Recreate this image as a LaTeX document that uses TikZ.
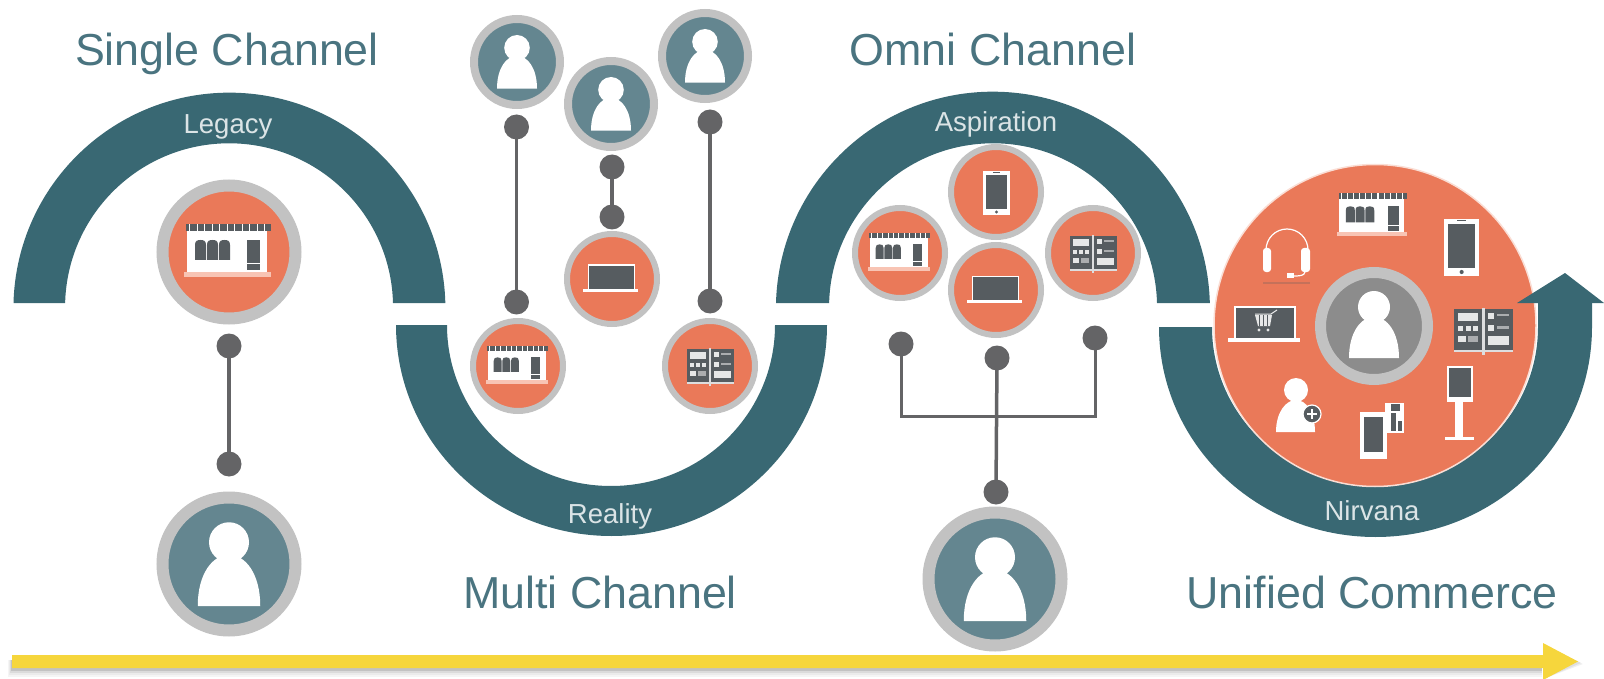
\documentclass[tikz,border=0pt]{standalone}
\usepackage{fontspec}
\setmainfont{Liberation Sans}
\definecolor{teal}{HTML}{396873}
\definecolor{coral}{HTML}{EA7959}
\definecolor{ringgray}{HTML}{C2C2C2}
\definecolor{persona}{HTML}{648690}
\definecolor{dotgray}{HTML}{646466}
\definecolor{icondark}{HTML}{565C60}
\definecolor{sunny}{HTML}{F6D63C}
\definecolor{titleblue}{HTML}{4A7480}
\definecolor{centergray}{HTML}{8C8C8C}
\definecolor{pale}{HTML}{F8C4B4}
\tikzset{
  ring/.style={circle,draw=ringgray,line width=#1,inner sep=0pt},
  bigp/.style={ring=12pt,fill=persona,minimum size=133pt},
  smallp/.style={ring=8pt,fill=persona,minimum size=86pt},
  bigo/.style={ring=12pt,fill=coral,minimum size=133pt},
  smallo/.style={ring=6pt,fill=coral,minimum size=90pt},
  dot/.style={circle,fill=dotgray,minimum size=25pt,inner sep=0pt,outer sep=0pt},
  wire/.style={draw=dotgray,line width=3.5pt,shorten <=-2pt,shorten >=-2pt},
  title/.style={font=\fontsize{44.8}{48}\selectfont,text=titleblue,inner sep=0pt,anchor=base},
  arclabel/.style={font=\fontsize{27.5}{30}\selectfont,text=white!82!teal,inner sep=0pt,anchor=base},
  band/.style={fill=teal},
  pics/person/.style={code={
    \fill[white] (0,-19) circle (16);
    \fill[white] (-25,32) .. controls (-25,6) and (-13,-9) .. (0,-9) .. controls (13,-9) and (25,6) .. (25,32) -- cycle;
  }},
  pics/store/.style={code={
    \fill[white] (-39,-28) rectangle (41,20);
    \fill[icondark] (-40,-28) rectangle (45,-21);
    \foreach \s in {-37,-29.5,...,41} {\fill[white] (\s,-28) rectangle ++(1.3,7);}
    \foreach \s in {-31,-19,-7} {\fill[icondark] (\s,8) -- (\s,-7) .. controls (\s,-11) and (\s+2,-12) .. (\s+5.5,-12) .. controls (\s+9,-12) and (\s+11,-11) .. (\s+11,-7) -- (\s+11,8) -- cycle;}
    \fill[icondark] (21,-12) rectangle (34,18);
    \fill[white] (21,11) rectangle (34,12);
    \fill[pale] (-42,20) rectangle (45,25);
  }},
  pics/laptop/.style={code={
    \fill[white] (-24.5,-14.5) rectangle (23,10);
    \fill[icondark] (-23,-13) rectangle (21.5,10);
    \fill[white] (-29,10) rectangle (26,13);
  }},
  pics/phone/.style={code={
    \fill[white] (-13,-21) rectangle (14,23);
    \fill[icondark] (-10,-17) rectangle (11,17);
    \fill[icondark] (-3,-20) rectangle (4,-19);
    \fill[icondark] (0.5,20) circle (1.6);
  }},
  pics/catalog/.style={code={
    \fill[icondark] (-23,-17) rectangle (24,16);
    \fill[white!80!icondark] (-23,16) rectangle (24,18);
    \fill[white!80!icondark] (-0.8,-18) rectangle (1.2,20);
    \fill[white!85!icondark] (-20,-14) rectangle (-4,-7);
    \foreach \s in {-20,-14,-8} {\fill[white!85!icondark] (\s,-3) rectangle ++(4,4);}
    \fill[white!85!icondark] (-20,5) rectangle (-14,10);
    \fill[white!50!icondark] (-12,5) rectangle (-4,10);
    \fill[white!85!icondark] (4,-14) rectangle (9,-9);
    \fill[white!50!icondark] (11,-13) rectangle (21,-11);
    \fill[white!85!icondark] (4,-4) rectangle (9,1);
    \fill[white!50!icondark] (11,-3) rectangle (21,-1);
    \fill[white!85!icondark] (4,5) rectangle (21,12);
  }},
}
\begin{document}
\begin{tikzpicture}[x=1pt,y=-1pt]
\useasboundingbox (0,0) rectangle (1604,679);
% --- yellow arrow with soft shadow
\fill[black!4] (8,660) rectangle (1542,677);
\fill[black!8] (9,660) rectangle (1542,675);
\fill[black!14] (10,660) rectangle (1542,673);
\fill[black!24] (11,660) rectangle (1542,671);
\fill[black!6] (1543,645) -- (1583,664) -- (1543,679) -- cycle;
\fill[black!12] (1543,645) -- (1581,663) -- (1543,679) -- cycle;
\fill[sunny] (12,655) -- (1543,655) -- (1543,643) -- (1578,661.5) -- (1543,680) -- (1543,668) -- (12,668) -- cycle;
% --- bands
\fill[band] (13.5,303) arc[start angle=181.5,end angle=358.5,radius=216] -- (393,303)
  arc[start angle=358.5,end angle=181.5,radius=164] -- cycle;
\fill[band] (396,325) arc[start angle=180,end angle=0,x radius=215.5,y radius=211] -- (775,325)
  arc[start angle=0,end angle=180,x radius=164,y radius=161] -- cycle;
\fill[band] (776,303) arc[start angle=181.5,end angle=358.5,radius=217] -- (1157,303)
  arc[start angle=358.5,end angle=181.5,radius=164] -- cycle;
\fill[band] (1159,327) arc[start angle=180,end angle=0,x radius=216.5,y radius=210] -- (1592,303) -- (1538,303) -- (1538,327)
  arc[start angle=0,end angle=180,x radius=163,y radius=158] -- cycle;
% --- unified circle
\node[circle,fill=coral,draw=white!75!coral,line width=1.5pt,minimum size=322pt,inner sep=0pt] (uni) at (1375,325.5) {};
\fill[band] (1517,303) -- (1565,273) -- (1604,303) -- cycle;
\fill[band] (1538,303) rectangle (1592,306);
\node[circle,fill=centergray,draw=ringgray,line width=11pt,minimum size=107pt,inner sep=0pt] (core) at (1374,326) {};
\pic at (1374,326) {person};
\pic[scale=.81] at (1371,216) {store};
\pic[scale=1.3] at (1461,246) {phone};
\pic[scale=1.3] at (1266,325) {laptop};
\pic[scale=1.24] at (1483,330) {catalog};
% cart
\begin{scope}[shift={(1264,322)}]
  \draw[white!85!icondark,line width=1pt] (-9,-8) -- (7,-8) -- (13,-12);
  \fill[white!85!icondark] (-9,-7) -- (8,-7) -- (6,4) -- (-6,4) -- cycle;
  \foreach \s in {-5,-1,3} \draw[icondark,line width=.7pt] (\s,-7) -- (\s,4);
  \fill[white!85!icondark] (-5,8) circle (1.7) (4,8) circle (1.7);
\end{scope}
% headset
\draw[white,line width=1.2pt] (1266,250) arc[start angle=180,end angle=360,radius=21];
\fill[white,rounded corners=3pt] (1263,248) rectangle (1271,272);
\fill[white,rounded corners=3pt] (1301,248) rectangle (1310,272);
\draw[white,line width=1.2pt] (1305,272) .. controls (1304,276) and (1300,276) .. (1292,276);
\fill[white] (1287,273) rectangle (1294,278);
\fill[icondark,opacity=.25] (1263,282) rectangle (1310,284);
% kiosk
\fill[white] (1447,366) rectangle (1473,402);
\fill[icondark] (1449,368) rectangle (1471,397);
\fill[white] (1455,402) rectangle (1463,437);
\fill[white] (1445,437) rectangle (1474,440);
% person plus
\fill[white] (1296,390) circle (12);
\fill[white] (1276,432) .. controls (1276,412) and (1286,400) .. (1296,400) .. controls (1306,400) and (1315,412) .. (1315,432) -- cycle;
\fill[icondark,draw=white,line width=1.2pt] (1312,414) circle (9);
\draw[white,line width=1.3pt] (1307,414) -- (1317,414) (1312,409) -- (1312,419);
% phone + store fragment
\fill[white] (1385,403) rectangle (1404,433);
\fill[icondark] (1391,404) rectangle (1400,411);
\fill[icondark] (1391,413) rectangle (1396,431);
\fill[icondark] (1398,421) rectangle (1402,431);
\fill[white] (1360,412) rectangle (1387,459);
\fill[icondark] (1364,417) rectangle (1383,452);
% --- single
\node[bigo] (store1) at (229,252) {};
\pic at (226,252) {store};
\node[bigp] (user1) at (229,564) {};
\pic[scale=1.25] at (229,566) {person};
\node[dot] (d1a) at (229,346) {};
\node[dot] (d1b) at (229,464) {};
\draw[wire] (d1a) -- (d1b);
% multi
\node[smallp] (user2a) at (517,62) {};
\pic[scale=.8] at (517,63) {person};
\node[smallp] (user2b) at (611,104) {};
\pic[scale=.8] at (611,105) {person};
\node[smallp] (user2c) at (705,56) {};
\pic[scale=.8] at (705,57) {person};
\node[smallo] (store2) at (518,366) {};
\pic[scale=.72] at (516,366) {store};
\node[smallo] (lap2) at (612,279) {};
\pic at (612,279) {laptop};
\node[smallo] (cat2) at (710,366) {};
\pic at (710,366) {catalog};
\node[dot] (d2a) at (516.5,127) {};
\node[dot] (d2b) at (516.5,302) {};
\node[dot] (d2c) at (612,167) {};
\node[dot] (d2d) at (612,217) {};
\node[dot] (d2e) at (710,122) {};
\node[dot] (d2f) at (710,301) {};
\draw[wire] (d2a) -- (d2b);
\draw[wire] (d2c) -- (d2d);
\draw[wire] (d2e) -- (d2f);
% omni
\node[smallo] (phone3) at (996,192) {};
\pic at (996,192) {phone};
\node[smallo] (store3) at (900,253) {};
\pic[scale=.72] at (898,253) {store};
\node[smallo] (lap3) at (996,290) {};
\pic at (996,290) {laptop};
\node[smallo] (cat3) at (1093,253) {};
\pic at (1093,253) {catalog};
\node[dot] (d3a) at (901,344) {};
\node[dot] (d3b) at (997,358) {};
\node[dot] (d3c) at (1095,338) {};
\node[dot] (d3d) at (996,492) {};
\coordinate (busl) at (901,416);
\coordinate (busr) at (1095,416);
\draw[wire,line width=3pt] (d3a) -- (busl) -- (busr) -- (d3c);
\draw[wire] (d3b) -- (d3d);
\node[bigp] (user3) at (995,579) {};
\pic[scale=1.25] at (995,581) {person};
% texts
\node[title] (t1) at (227,66) {Single Channel};
\node[title] (t2) at (600,608) {Multi Channel};
\node[title] (t3) at (993,66) {Omni Channel};
\node[title] (t4) at (1372,608) {Unified Commerce};
\node[arclabel] (l1) at (228,134) {Legacy};
\node[arclabel] (l2) at (610,523) {Reality};
\node[arclabel] (l3) at (996,132) {Aspiration};
\node[arclabel] (l4) at (1372,520) {Nirvana};
\end{tikzpicture}
\end{document}
